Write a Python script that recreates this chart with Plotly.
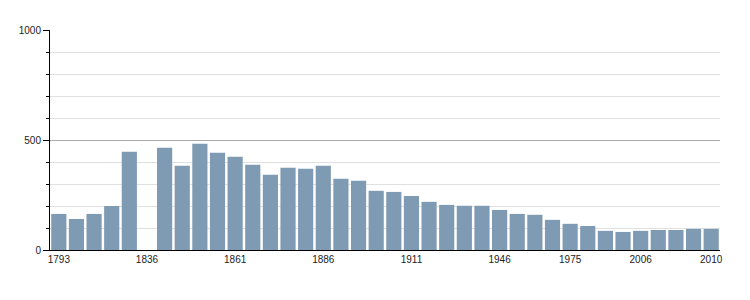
import plotly.graph_objects as go

years = ["1793", "1800", "1806", "1821", "1831", "1836", "1841", "1846", "1851", "1856",
         "1861", "1866", "1872", "1876", "1881", "1886", "1891", "1896", "1901", "1906",
         "1911", "1921", "1926", "1931", "1936", "1946", "1954", "1962", "1968", "1975",
         "1982", "1990", "1999", "2006", "2007", "2008", "2009", "2010"]
population = [164, 141, 164, 200, 447, None, 465, 383, 483, 442,
              424, 388, 342, 374, 369, 383, 324, 315, 269, 264,
              246, 219, 205, 201, 201, 182, 164, 160, 137, 119,
              109, 87, 82, 87, 91, 91, 96, 96]
tick_labels = ["1793", "1836", "1861", "1886", "1911", "1946", "1975", "2006", "2010"]

fig = go.Figure()
fig.add_trace(go.Bar(x=years, y=population, marker=dict(color="#7f9ab3", line=dict(width=0)),
                     hoverinfo="x+y"))

fig.update_layout(
    width=750, height=300,
    margin=dict(l=50, r=30, t=30, b=50),
    plot_bgcolor="white", paper_bgcolor="white",
    bargap=0.14,
    showlegend=False,
    font=dict(family="Liberation Sans, Arial, sans-serif", size=10, color="#222"),
)
fig.update_xaxes(
    type="category", range=[-0.5, len(years) - 0.5],
    tickmode="array", tickvals=tick_labels, ticktext=tick_labels,
    showgrid=False, ticks="", showline=True, linecolor="black", linewidth=1,
    tickfont=dict(size=10), zeroline=False,
)
fig.update_yaxes(
    range=[0, 1000], dtick=500, tick0=0,
    showgrid=True, gridcolor="#aaaaaa", gridwidth=1,
    ticks="outside", ticklen=6, tickcolor="black",
    showline=True, linecolor="black", linewidth=1,
    zeroline=False, tickfont=dict(size=10),
    minor=dict(dtick=100, showgrid=True, gridcolor="#e0e0e0", gridwidth=1,
               ticks="outside", ticklen=3, tickcolor="black"),
)

fig.write_html("out.html")
